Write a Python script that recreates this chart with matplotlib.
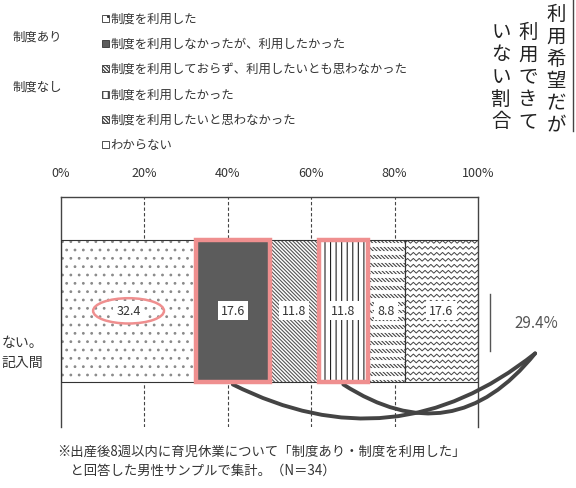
import numpy as np
import matplotlib
matplotlib.use("Agg")
import matplotlib.pyplot as plt
from matplotlib.patches import Rectangle, Ellipse
from matplotlib.collections import LineCollection

plt.rcParams["font.family"] = ["Noto Sans CJK JP", "DejaVu Sans"]
plt.rcParams["hatch.linewidth"] = 0.8

# ---- data ----
values = [32.4, 17.6, 11.8, 11.8, 8.8, 17.6]
value_labels = ["32.4", "17.6", "11.8", "11.8", "8.8", "17.6"]
highlighted = [1, 3]          # segments framed in pink
legend_labels = [
    "制度を利用した",
    "制度を利用しなかったが、利用したかった",
    "制度を利用しておらず、利用したいとも思わなかった",
    "制度を利用したかった",
    "制度を利用したいと思わなかった",
    "わからない",
]
group_labels = ["制度あり", "制度なし"]
ticks = [0, 20, 40, 60, 80, 100]
total_label = "29.4%"
title_cols = ["利用希望だが", "利用できて", "いない割合"]
footnote = ["※出産後8週以内に育児休業について「制度あり・制度を利用した」",
            "　と回答した男性サンプルで集計。（N＝34）"]

W, H = 576, 489
fig = plt.figure(figsize=(W / 100, H / 100), dpi=100)
fig.patch.set_facecolor("white")
TXT = "#333333"
PINK = "#ef8f8f"
DARK = "#5c5c5c"


def fx(px):
    return px / W


def fy(py):
    return 1 - py / H


ax = fig.add_axes([fx(61), fy(428), fx(478) - fx(61), fy(198) - fy(428)])
ax.set_xlim(0, 100)
ax.set_ylim(0, 1)
bar_y, bar_h = 0.505, 0.62
bot, top = bar_y - bar_h / 2, bar_y + bar_h / 2

# grid + frame
for t in ticks[1:-1]:
    ax.axvline(t, color="#444444", lw=0.8, ls=(0, (3, 2)), zorder=0)
ax.spines["bottom"].set_visible(False)
for s in ["left", "right", "top"]:
    ax.spines[s].set_color("#444444")
    ax.spines[s].set_linewidth(1.0)
ax.xaxis.tick_top()
ax.set_xticks(ticks)
ax.set_xticklabels([f"{t}%" for t in ticks], fontsize=9, color=TXT)
ax.tick_params(axis="x", length=0, pad=13)
ax.set_yticks([])

lefts = np.concatenate([[0], np.cumsum(values)[:-1]])
styles = [
    dict(facecolor="white", hatch="..", edgecolor="#8a8a8a"),
    dict(facecolor=DARK, hatch=None, edgecolor=DARK),
    dict(facecolor="white", hatch="\\" * 9, edgecolor="#555555"),
    dict(facecolor="white", hatch="|||", edgecolor="#222222"),
    dict(facecolor="white", hatch="\\" * 9, edgecolor="#444444"),
    dict(facecolor="white", hatch=None, edgecolor="#444444"),
]
bars = []
for i, (l, v) in enumerate(zip(lefts, values)):
    b = ax.barh(bar_y, v, left=l, height=bar_h, lw=0, zorder=2, **styles[i])[0]
    bars.append(b)
    ax.add_patch(Rectangle((l, bot), v, bar_h, fill=False, ec="#333333", lw=0.8, zorder=4))

# texture: white horizontal gaps in the 8.8 segment
l4, v4 = lefts[4], values[4]
ys = np.arange(bot + 0.018, top, 0.034)
segs = [[(l4, y), (l4 + v4, y)] for y in ys]
ax.add_collection(LineCollection(segs, colors="white", lw=2.8, zorder=3))

# texture: zigzag rows in the last segment
l5, v5 = lefts[5], values[5]
xs = np.arange(l5, l5 + v5 + 0.7, 0.7)
ys5 = np.arange(bot + 0.012, top, 0.026)
zz = []
for y in ys5:
    zy = y + np.where(np.arange(len(xs)) % 2 == 0, -0.006, 0.006)
    zz.append(np.column_stack([xs, zy]))
lc = LineCollection(zz, colors="#444444", lw=0.7, zorder=3)
lc.set_clip_path(bars[5])
ax.add_collection(lc)

# pink frames
for i in highlighted:
    ax.add_patch(Rectangle((lefts[i], bot), values[i], bar_h, fill=False,
                           ec=PINK, lw=3.2, zorder=5, clip_on=False))

# value labels
for i, (l, v) in enumerate(zip(lefts, values)):
    ax.text(l + v / 2, bar_y, value_labels[i], ha="center", va="center",
            fontsize=9, color=TXT, zorder=6,
            bbox=dict(boxstyle="square,pad=0.25", fc="white", ec="none"))
ax.add_patch(Ellipse((lefts[0] + values[0] / 2, bar_y), 17.0, 0.11,
                     fill=False, ec=PINK, lw=1.8, zorder=6))

# connector curves to the total label
target = (1.137, 0.32)
for i, rad in zip(highlighted, [-0.32, -0.45]):
    ax.annotate("", xy=(lefts[i] + values[i] / 2, bot - 0.01), xycoords="data",
                xytext=target, textcoords="axes fraction", annotation_clip=False,
                arrowprops=dict(arrowstyle="-", color="#444444", lw=2.8,
                                connectionstyle=f"arc3,rad={rad}",
                                shrinkA=0, shrinkB=0))
ax.text(1.14, 0.455, total_label, transform=ax.transAxes, ha="center",
        va="center", fontsize=11, color="#555555")
ax.plot([1.029, 1.029], [0.33, 0.58], transform=ax.transAxes, color="#555555",
        lw=1.0, clip_on=False)

# legend
rows_y = [19, 44, 69, 95, 120, 145]
for i, (lab, y) in enumerate(zip(legend_labels, rows_y)):
    st = styles[i]
    fig.patches.append(Rectangle((fx(102), fy(y + 3.5)), fx(7), 7 / H,
                                 transform=fig.transFigure, fc=st["facecolor"],
                                 hatch=st["hatch"], ec="#333333", lw=0.6))
    fig.text(fx(110), fy(y), lab, fontsize=8.9, color=TXT, va="center", ha="left")
fig.text(fx(12), fy(37), group_labels[0], fontsize=8.9, color=TXT, va="center")
fig.text(fx(12), fy(87), group_labels[1], fontsize=8.9, color=TXT, va="center")

# vertical title
for col, x, y0 in zip(title_cols, [556, 528, 501], [4, 22, 22]):
    fig.text(fx(x), fy(y0), "\n".join(col), fontsize=14, color="#222222",
             ha="center", va="top", linespacing=1.08)
fig.add_artist(plt.Line2D([fx(573), fx(573)], [fy(0), fy(132)],
                          color="#444444", lw=1.0))

# cut-off left text
fig.text(fx(43), fy(343), "ない。", fontsize=10, color=TXT, ha="right", va="center")
fig.text(fx(43), fy(363), "記入間", fontsize=10, color=TXT, ha="right", va="center")

# footnote
fig.text(fx(57), fy(452), footnote[0], fontsize=9.6, color=TXT, va="center")
fig.text(fx(57), fy(471), footnote[1], fontsize=9.6, color=TXT, va="center")

fig.savefig("out.png", dpi=100, facecolor="white")
